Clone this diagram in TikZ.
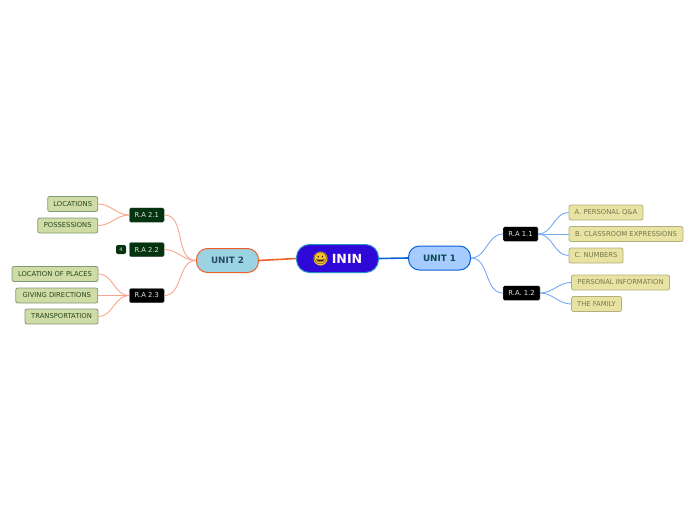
\documentclass[tikz,border=0pt]{standalone}
\usepackage{fontspec}
\setmainfont{DejaVu Sans}
\newfontfamily\emojifont{Noto Emoji}
\definecolor{ininfill}{HTML}{2E08D6}
\definecolor{ininline}{HTML}{2A8FC8}
\definecolor{unitonefill}{HTML}{A6CCFF}
\definecolor{unitoneline}{HTML}{0A62D8}
\definecolor{unittwofill}{HTML}{9BD3E3}
\definecolor{unittwoline}{HTML}{F0602C}
\definecolor{unitonetext}{HTML}{0B4A50}
\definecolor{unittwotext}{HTML}{2A4A68}
\definecolor{bluebranch}{HTML}{76A9F0}
\definecolor{redbranch}{HTML}{F9A48C}
\definecolor{darkgreen}{HTML}{04330F}
\definecolor{yellowfill}{HTML}{E8E3A3}
\definecolor{yellowline}{HTML}{B3AE7C}
\definecolor{yellowtext}{HTML}{77774F}
\definecolor{greenfill}{HTML}{CFDCA6}
\definecolor{greenline}{HTML}{7F9A74}
\definecolor{greentext}{HTML}{28481F}
\definecolor{smileyfill}{HTML}{FBC02D}
\tikzset{
    rootbox/.style={draw=ininline, line width=1pt, fill=ininfill, rounded corners=13pt, text=white, font=\bfseries\fontsize{12.6}{14}\selectfont, inner sep=0pt, minimum width=82pt, minimum height=28pt},
    unitbox/.style={line width=1pt, rounded corners=11pt, font=\bfseries\fontsize{8.8}{10}\selectfont, inner sep=0pt, minimum height=24pt, minimum width=62pt},
    rabox/.style={draw=gray!50, line width=0.3pt, rounded corners=1.5pt, text=white!90!black, font=\fontsize{6.8}{8}\selectfont, inner sep=0pt, minimum height=14.5pt},
    yellowbox/.style={draw=yellowline, line width=0.8pt, fill=yellowfill, text=yellowtext, rounded corners=2pt, font=\fontsize{6.8}{8}\selectfont, inner sep=0pt, minimum height=15pt},
    greenbox/.style={draw=greenline, line width=0.8pt, fill=greenfill, text=greentext, rounded corners=2pt, font=\fontsize{6.8}{8}\selectfont, inner sep=0pt, minimum height=15pt},
    blueline/.style={draw=bluebranch, line width=0.9pt},
    redline/.style={draw=redbranch, line width=0.9pt}
}
\begin{document}
\begin{tikzpicture}[x=1pt, y=-1pt]
    \useasboundingbox (0,0) rectangle (696,520);

    % centre
    \node[rootbox] (inin) at (337.5,258.5) {\hspace{19pt}ININ};
    \node[circle, fill=smileyfill, inner sep=0pt, minimum size=14pt] (smiley) at (320.5,258.5) {};
    \node[inner sep=0pt, text=black!85, font=\emojifont\fontsize{12}{12}\selectfont] (smileyface) at (smiley) {😀};
    \node[unitbox, draw=unitoneline, fill=unitonefill, text=unitonetext] (unitone) at (439.5,258) {UNIT 1};
    \node[unitbox, draw=unittwoline, fill=unittwofill, text=unittwotext] (unittwo) at (227.5,260.5) {UNIT 2};
    \draw[unitoneline, line width=1.6pt] (inin.east) -- (unitone.west);
    \draw[unittwoline, line width=1.6pt] (inin.west) -- (unittwo.east);

    % right side
    \node[rabox, fill=black, minimum width=35pt] (raoneone) at (520.5,234) {R.A 1.1};
    \node[rabox, fill=black, minimum width=37pt] (raonetwo) at (521.5,293) {R.A. 1.2};
    \node[yellowbox, minimum width=74pt] (personal) at (606,212.5) {A. PERSONAL Q\&A};
    \node[yellowbox, minimum width=114pt] (classroom) at (626,234) {B. CLASSROOM EXPRESSIONS};
    \node[yellowbox, minimum width=54pt] (numbers) at (596,255.5) {C. NUMBERS};
    \node[yellowbox, minimum width=98pt] (information) at (620.5,282.5) {PERSONAL INFORMATION};
    \node[yellowbox, minimum width=50pt] (family) at (596.5,304) {THE FAMILY};

    \draw[blueline] (unitone.east) to[out=0, in=180] (raoneone.west);
    \draw[blueline] (unitone.east) to[out=0, in=180] (raonetwo.west);
    \draw[blueline] (raoneone.east) to[out=0, in=180] (personal.west);
    \draw[blueline] (raoneone.east) -- (classroom.west);
    \draw[blueline] (raoneone.east) to[out=0, in=180] (numbers.west);
    \draw[blueline] (raonetwo.east) to[out=0, in=180] (information.west);
    \draw[blueline] (raonetwo.east) to[out=0, in=180] (family.west);

    % left side
    \node[rabox, fill=darkgreen, minimum width=35pt] (ratwoone) at (146.75,215) {R.A 2.1};
    \node[rabox, fill=darkgreen, minimum width=35pt] (ratwotwo) at (146.75,249.5) {R.A 2.2};
    \node[rabox, fill=black, minimum width=35pt] (ratwothree) at (146.75,295.5) {R.A 2.3};
    \node[rabox, draw=none, fill=darkgreen, rounded corners=2pt, minimum width=10pt, minimum height=9pt, font=\fontsize{5}{6}\selectfont] (count) at (121,249.5) {4};
    \node[greenbox, minimum width=50pt] (locations) at (72.75,204) {LOCATIONS};
    \node[greenbox, minimum width=60pt] (possessions) at (67.75,225.5) {POSSESSIONS};
    \node[greenbox, minimum width=86pt] (places) at (55,274) {LOCATION OF PLACES};
    \node[greenbox, minimum width=82pt] (directions) at (56.75,295.5) {GIVING DIRECTIONS};
    \node[greenbox, minimum width=73pt] (transportation) at (61.5,316.5) {TRANSPORTATION};

    \draw[redline] (unittwo.west) to[out=180, in=0] (ratwoone.east);
    \draw[redline] (unittwo.west) to[out=180, in=0] (ratwotwo.east);
    \draw[redline] (unittwo.west) to[out=180, in=0] (ratwothree.east);
    \draw[redline] (ratwoone.west) to[out=180, in=0] (locations.east);
    \draw[redline] (ratwoone.west) to[out=180, in=0] (possessions.east);
    \draw[redline] (ratwothree.west) to[out=180, in=0] (places.east);
    \draw[redline] (ratwothree.west) -- (directions.east);
    \draw[redline] (ratwothree.west) to[out=180, in=0] (transportation.east);
\end{tikzpicture}
\end{document}
